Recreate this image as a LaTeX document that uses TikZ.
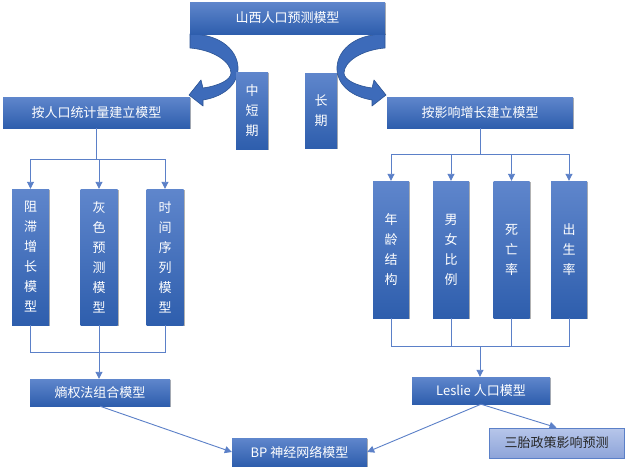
\documentclass[tikz,border=0pt]{standalone}
\usepackage{fontspec}
\newfontfamily\cjk{Noto Sans CJK SC}
\usetikzlibrary{shadows,arrows.meta}
\definecolor{btop}{HTML}{5F86CC}
\definecolor{bbot}{HTML}{2E5EAD}
\definecolor{ltop}{HTML}{B7C6EA}
\definecolor{lbot}{HTML}{8DA4D9}
\definecolor{lnc}{HTML}{5B80C8}
\definecolor{arrfill}{HTML}{3D6BBA}
\definecolor{arrdraw}{HTML}{2C5494}
\tikzset{
  bbox/.style={rectangle, inner sep=0pt, top color=btop, bottom color=bbot, draw=none,
    text=white, font=\cjk\fontsize{13pt}{20pt}\selectfont, align=center,
    drop shadow={shadow xshift=1.2pt, shadow yshift=-1.2pt, opacity=0.3, fill=black}},
  lbox/.style={rectangle, inner sep=0pt, top color=ltop, bottom color=lbot, draw=lnc, line width=0.8pt,
    text=black!85, font=\cjk\fontsize{13pt}{20pt}\selectfont, align=center,
    drop shadow={shadow xshift=1.2pt, shadow yshift=-1.2pt, opacity=0.25, fill=black}},
  conn/.style={draw=lnc, line width=0.9pt},
  arr/.style={conn, -{Triangle[length=7pt,width=7pt]}},
  bigarr/.style={fill=arrfill, draw=arrdraw, line width=0.6pt, line join=round}
}
\begin{document}
\begin{tikzpicture}[x=1pt,y=-1pt]
\fill[white] (0,0) rectangle (625,471);
\useasboundingbox (0,0) rectangle (625,471);

% curved arrows (drawn first so the top box covers their tails)
\path[bigarr] (190,34) .. controls (222,34) and (239,52) .. (238,70)
  .. controls (237,86) and (222,97) .. (203,100) -- (203,106) -- (189,95) -- (201,80) -- (203,88)
  .. controls (218,86) and (231,80) .. (231,73) .. controls (231,62) and (214,50) .. (190,48) -- cycle;
\begin{scope}[shift={(575,0)}, xscale=-1]
\path[bigarr] (190,34) .. controls (222,34) and (239,52) .. (238,70)
  .. controls (237,86) and (222,97) .. (203,100) -- (203,106) -- (189,95) -- (201,80) -- (203,88)
  .. controls (218,86) and (231,80) .. (231,73) .. controls (231,62) and (214,50) .. (190,48) -- cycle;
\end{scope}

% top
\node[bbox, minimum width=195pt, minimum height=32pt] (top) at (287.5,18) {山西人口预测模型};
\node[bbox, minimum width=32pt, minimum height=77pt] (zd) at (252,110.5) {中\\短\\期};
\node[bbox, minimum width=32pt, minimum height=75pt] (cq) at (321,110.5) {长\\期};

% level 1
\node[bbox, minimum width=187pt, minimum height=31pt] (L1) at (96.5,112.5) {按人口统计量建立模型};
\node[bbox, minimum width=186pt, minimum height=31pt] (R1) at (480,112.5) {按影响增长建立模型};

% left verticals
\node[bbox, minimum width=37pt, minimum height=136pt] (lv1) at (30.5,257) {阻\\滞\\增\\长\\模\\型};
\node[bbox, minimum width=37pt, minimum height=136pt] (lv2) at (99,257) {灰\\色\\预\\测\\模\\型};
\node[bbox, minimum width=37pt, minimum height=136pt] (lv3) at (165,257) {时\\间\\序\\列\\模\\型};

% right verticals
\node[bbox, minimum width=36pt, minimum height=137pt] (rv1) at (391,249.5) {年\\龄\\结\\构};
\node[bbox, minimum width=36pt, minimum height=137pt] (rv2) at (451,249.5) {男\\女\\比\\例};
\node[bbox, minimum width=36pt, minimum height=137pt] (rv3) at (511.5,249.5) {死\\亡\\率};
\node[bbox, minimum width=36pt, minimum height=137pt] (rv4) at (569,249.5) {出\\生\\率};

% bottom
\node[bbox, minimum width=140pt, minimum height=27pt] (E) at (100,392.5) {熵权法组合模型};
\node[bbox, minimum width=138pt, minimum height=27pt] (LS) at (481,390.5) {Leslie 人口模型};
\node[bbox, minimum width=135pt, minimum height=28pt] (BP) at (299.5,452) {BP 神经网络模型};
\node[lbox, minimum width=135pt, minimum height=30pt] (T) at (556.5,443) {三胎政策影响预测};

% left tree
\coordinate (lj) at (96.5,159);
\draw[conn] (L1.south) -- (lj);
\draw[conn] (lv1.north |- lj) -- (lv3.north |- lj);
\draw[arr] (lv1.north |- lj) -- (lv1.north);
\draw[arr] (lv2.north |- lj) -- (lv2.north);
\draw[arr] (lv3.north |- lj) -- (lv3.north);
\coordinate (lb) at (99,352);
\draw[conn] (lv1.south) -- (lv1.south |- lb) -- (lv3.south |- lb) -- (lv3.south);
\draw[conn] (lv2.south) -- (lv2.south |- lb);
\draw[arr] (lv2.south |- lb) -- (lv2.south |- E.north);

% right tree
\coordinate (rj) at (480,154);
\draw[conn] (R1.south) -- (rj);
\draw[conn] (rv1.north |- rj) -- (rv4.north |- rj);
\draw[arr] (rv1.north |- rj) -- (rv1.north);
\draw[arr] (rv2.north |- rj) -- (rv2.north);
\draw[arr] (rv3.north |- rj) -- (rv3.north);
\draw[arr] (rv4.north |- rj) -- (rv4.north);
\coordinate (rb) at (480,346);
\draw[conn] (rv1.south) -- (rv1.south |- rb) -- (rv4.south |- rb) -- (rv4.south);
\draw[conn] (rv2.south) -- (rv2.south |- rb);
\draw[conn] (rv3.south) -- (rv3.south |- rb);
\draw[arr] (rb) -- (rb |- LS.north);

% diagonals
\draw[arr] (E.south) -- (BP.west);
\draw[arr] (LS.south) -- (BP.east);
\draw[arr] (LS.south) -- (T.north);
\end{tikzpicture}
\end{document}
